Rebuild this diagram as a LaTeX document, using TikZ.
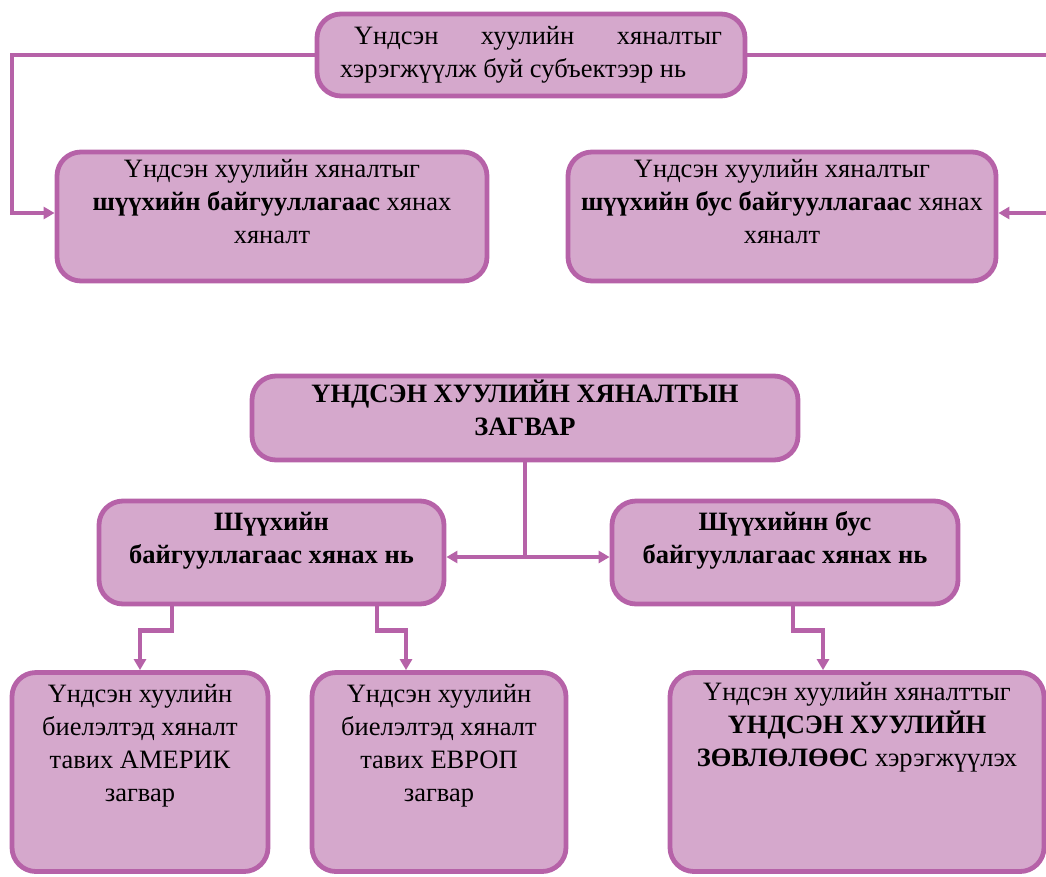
\documentclass[tikz,border=0pt]{standalone}
\usepackage{fontspec}
\setmainfont{Liberation Serif}
\usetikzlibrary{arrows.meta,positioning,calc}
\definecolor{boxfill}{RGB}{213,168,204}
\definecolor{boxedge}{RGB}{182,98,168}
\newcommand{\toptext}[3]{\parbox[c][#1][t]{#2}{\centering #3}}
\tikzset{
  box/.style={
    rectangle, rounded corners=24pt, inner sep=0pt,
    line width=4.8pt, draw=boxedge, fill=boxfill,
    font=\fontsize{26.5}{33}\selectfont
  },
  %
  link/.style={
    line width=4.5pt, draw=boxedge, -{Triangle[length=11pt,width=12pt]}
  }
}

\begin{document}
\begin{tikzpicture}[x=1pt,y=-1pt]
\useasboundingbox (0,0) rectangle (1046,876);

\node(subj)[box, minimum width=428pt, minimum height=82pt, text width=382pt, align=justify] at (531,55) {\hspace*{14pt}Үндсэн хуулийн хяналтыг\linebreak хэрэгжүүлж буй субъектээр нь};

\node(court)[box, minimum width=430pt, minimum height=129pt] at (272,216.5) {\toptext{115pt}{420pt}{Үндсэн хуулийн хяналтыг\\ \textbf{шүүхийн байгууллагаас} хянах\\ хяналт}};

\node(noncourt)[box, minimum width=428pt, minimum height=129pt] at (782,216.5) {\toptext{115pt}{420pt}{Үндсэн хуулийн хяналтыг\\ \textbf{шүүхийн бус байгууллагаас} хянах\\ хяналт}};

\node(model)[box, minimum width=546pt, minimum height=84pt] at (525,418) {\toptext{76pt}{530pt}{\textbf{ҮНДСЭН ХУУЛИЙН ХЯНАЛТЫН}\\ \textbf{ЗАГВАР}}};

\node(judic)[box, minimum width=345pt, minimum height=103pt] at (271.5,552.5) {\toptext{81pt}{335pt}{\textbf{Шүүхийн}\\ \textbf{байгууллагаас хянах нь}}};

\node(nonjudic)[box, minimum width=346pt, minimum height=103pt] at (785,552.5) {\toptext{81pt}{335pt}{\textbf{Шүүхийнн бус}\\ \textbf{байгууллагаас хянах нь}}};

\node(amer)[box, minimum width=256pt, minimum height=199pt] at (140,772) {\toptext{175pt}{245pt}{Үндсэн хуулийн\\ биелэлтэд хяналт\\ тавих АМЕРИК\\ загвар}};

\node(euro)[box, minimum width=254pt, minimum height=199pt] at (439,772) {\toptext{175pt}{245pt}{Үндсэн хуулийн\\ биелэлтэд хяналт\\ тавих ЕВРОП\\ загвар}};

\node(council)[box, minimum width=374pt, minimum height=199pt] at (857,772) {\toptext{179pt}{365pt}{Үндсэн хуулийн хяналттыг\\ \textbf{ҮНДСЭН ХУУЛИЙН}\\ \textbf{ЗӨВЛӨЛӨӨС} хэрэгжүүлэх}};

\coordinate (lbend) at (12,55);
\coordinate (rbend) at (1054,55);
\draw[link] (subj.west) -- (lbend) |- ([yshift=3.5pt]court.west);
\draw[link] (subj.east) -- (rbend) |- ([yshift=3.5pt]noncourt.east);
\draw[link] (model.south) |- ([yshift=-4.5pt]judic.east);
\draw[link] (model.south) |- ([yshift=-4.5pt]nonjudic.west);
\draw[link] ([xshift=-99.5pt]judic.south) -- ++(0,24) -| (amer.north);
\draw[link] ([xshift=105.5pt]judic.south) -- ++(0,24) -| ([xshift=-33pt]euro.north);
\draw[link] ([xshift=8pt]nonjudic.south) -- ++(0,24) -| ([xshift=-34pt]council.north);

\end{tikzpicture}
\end{document}
